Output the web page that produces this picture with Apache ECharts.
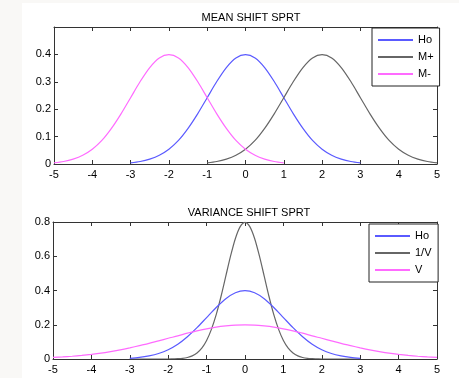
<!DOCTYPE html>
<html>
<head>
<meta charset="utf-8">
<script src="https://cdn.jsdelivr.net/npm/echarts@6/dist/echarts.min.js"></script>
<style>
html,body{margin:0;padding:0;background:#fff;}
#c{width:459px;height:378px;}
</style>
</head>
<body>
<div id="c"></div>
<script>
// ---- data ----
var xTicks = [-5, -4, -3, -2, -1, 0, 1, 2, 3, 4, 5];
var topYTicks = [0, 0.1, 0.2, 0.3, 0.4];
var botYTicks = [0, 0.2, 0.4, 0.6, 0.8];

// Top panel: MEAN SHIFT SPRT
var hoX = [-3,-2.75,-2.5,-2.25,-2,-1.75,-1.5,-1.25,-1,-0.75,-0.5,-0.25,0,0.25,0.5,0.75,1,1.25,1.5,1.75,2,2.25,2.5,2.75,3];
var hoY = [0.004,0.009,0.018,0.032,0.054,0.086,0.130,0.183,0.242,0.301,0.352,0.387,0.399,0.387,0.352,0.301,0.242,0.183,0.130,0.086,0.054,0.032,0.018,0.009,0.004];
var mPlusX = [-1,-0.75,-0.5,-0.25,0,0.25,0.5,0.75,1,1.25,1.5,1.75,2,2.25,2.5,2.75,3,3.25,3.5,3.75,4,4.25,4.5,4.75,5];
var mPlusY = [0.004,0.009,0.018,0.032,0.054,0.086,0.130,0.183,0.242,0.301,0.352,0.387,0.399,0.387,0.352,0.301,0.242,0.183,0.130,0.086,0.054,0.032,0.018,0.009,0.004];
var mMinusX = [-5,-4.75,-4.5,-4.25,-4,-3.75,-3.5,-3.25,-3,-2.75,-2.5,-2.25,-2,-1.75,-1.5,-1.25,-1,-0.75,-0.5,-0.25,0,0.25,0.5,0.75,1];
var mMinusY = [0.004,0.009,0.018,0.032,0.054,0.086,0.130,0.183,0.242,0.301,0.352,0.387,0.399,0.387,0.352,0.301,0.242,0.183,0.130,0.086,0.054,0.032,0.018,0.009,0.004];

// Bottom panel: VARIANCE SHIFT SPRT
var ho2X = hoX;
var ho2Y = hoY;
var invVX = [-3,-2.5,-2,-1.875,-1.75,-1.625,-1.5,-1.375,-1.25,-1.125,-1,-0.875,-0.75,-0.625,-0.5,-0.375,-0.25,-0.125,0,0.125,0.25,0.375,0.5,0.625,0.75,0.875,1,1.125,1.25,1.375,1.5,1.625,1.75,1.875,2,2.5,3];
var invVY = [0,0,0,0.001,0.002,0.004,0.009,0.018,0.035,0.063,0.108,0.173,0.259,0.365,0.484,0.602,0.704,0.773,0.798,0.773,0.704,0.602,0.484,0.365,0.259,0.173,0.108,0.063,0.035,0.018,0.009,0.004,0.002,0.001,0,0,0];
var vX = [-5,-4.75,-4.5,-4.25,-4,-3.75,-3.5,-3.25,-3,-2.75,-2.5,-2.25,-2,-1.75,-1.5,-1.25,-1,-0.75,-0.5,-0.25,0,0.25,0.5,0.75,1,1.25,1.5,1.75,2,2.25,2.5,2.75,3,3.25,3.5,3.75,4,4.25,4.5,4.75,5];
var vY = [0.009,0.012,0.016,0.021,0.027,0.034,0.043,0.053,0.065,0.078,0.091,0.106,0.121,0.135,0.151,0.164,0.176,0.186,0.193,0.198,0.199,0.198,0.193,0.186,0.176,0.164,0.151,0.135,0.121,0.106,0.091,0.078,0.065,0.053,0.043,0.034,0.027,0.021,0.016,0.012,0.009];

function pairs(xs, ys){ return xs.map(function(x,i){ return [x, ys[i]]; }); }

var FONT = '"Liberation Sans", Arial, sans-serif';
var AX = '#333';
var BLUE = '#5a5aff', GREY = '#666666', MAG = '#ff6bff';

function xAx(gi, pos, labels){
  return {
    type:'value', gridIndex:gi, position:pos, min:-5, max:5, interval:1,
    axisLine:{show:true, onZero:false, lineStyle:{color:AX, width:1}},
    axisTick:{show:true, inside:true, length:4, lineStyle:{color:AX}},
    axisLabel:{show:labels, color:'#000', fontFamily:FONT, fontSize:11, margin:5},
    splitLine:{show:false}
  };
}
function yAx(gi, pos, labels, max, interval, hideTop){
  return {
    type:'value', gridIndex:gi, position:pos, min:0, max:max, interval:interval,
    axisLine:{show:true, onZero:false, lineStyle:{color:AX, width:1}},
    axisTick:{show:true, inside:true, length:4, lineStyle:{color:AX}},
    axisLabel:{show:labels, color:'#000', fontFamily:FONT, fontSize:11, margin:3,
      formatter:function(v){ if(hideTop && Math.abs(v-max)<1e-9) return ''; return String(Math.round(v*10)/10); }},
    splitLine:{show:false}
  };
}
function line(name, data, color, xi, yi){
  return {name:name, type:'line', xAxisIndex:xi, yAxisIndex:yi, data:data, symbol:'none',
    smooth:0.3, lineStyle:{color:color, width:1.2}, itemStyle:{color:color}, z:3};
}
function legend(names, left, top){
  return {
    data:names, orient:'vertical', left:left, top:top,
    backgroundColor:'#fff', borderColor:'#222', borderWidth:1, borderRadius:0,
    padding:[5,6,5,6], itemGap:3, itemWidth:35, itemHeight:2, icon:'rect',
    textStyle:{color:'#000', fontFamily:FONT, fontSize:11, lineHeight:14},
    selectedMode:false
  };
}

var chart = echarts.init(document.getElementById('c'), null, {renderer:'canvas'});
chart.setOption({
  animation:false,
  backgroundColor:'#fff',
  graphic:[
    {type:'rect', shape:{x:0,y:0,width:22,height:378}, style:{fill:'#f9f8f6'}, silent:true, z:-10},
    {type:'rect', shape:{x:0,y:0,width:459,height:3}, style:{fill:'#f9f8f6'}, silent:true, z:-10}
  ],
  title:[
    {text:'MEAN SHIFT SPRT', left:246, top:7, textAlign:'center',
     textStyle:{fontFamily:FONT, fontSize:11, fontWeight:'normal', color:'#000'}},
    {text:'VARIANCE SHIFT SPRT', left:244, top:202, textAlign:'center',
     textStyle:{fontFamily:FONT, fontSize:11, fontWeight:'normal', color:'#000'}}
  ],
  grid:[
    {left:54, top:27, width:383, height:137, show:false},
    {left:53, top:222, width:384, height:137, show:false}
  ],
  xAxis:[xAx(0,'bottom',true), xAx(0,'top',false), xAx(1,'bottom',true), xAx(1,'top',false)],
  yAxis:[yAx(0,'left',true,0.5,0.1,true), yAx(0,'right',false,0.5,0.1,true),
         yAx(1,'left',true,0.8,0.2,false), yAx(1,'right',false,0.8,0.2,false)],
  legend:[legend(['Ho','M+','M-'], 372, 28), legend(['Ho ','1/V','V'], 369, 224)],
  series:[
    line('Ho', pairs(hoX,hoY), BLUE, 0, 0),
    line('M+', pairs(mPlusX,mPlusY), GREY, 0, 0),
    line('M-', pairs(mMinusX,mMinusY), MAG, 0, 0),
    line('1/V', pairs(invVX,invVY), GREY, 2, 2),
    line('Ho ', pairs(ho2X,ho2Y), BLUE, 2, 2),
    line('V', pairs(vX,vY), MAG, 2, 2)
  ]
});
</script>
</body>
</html>
